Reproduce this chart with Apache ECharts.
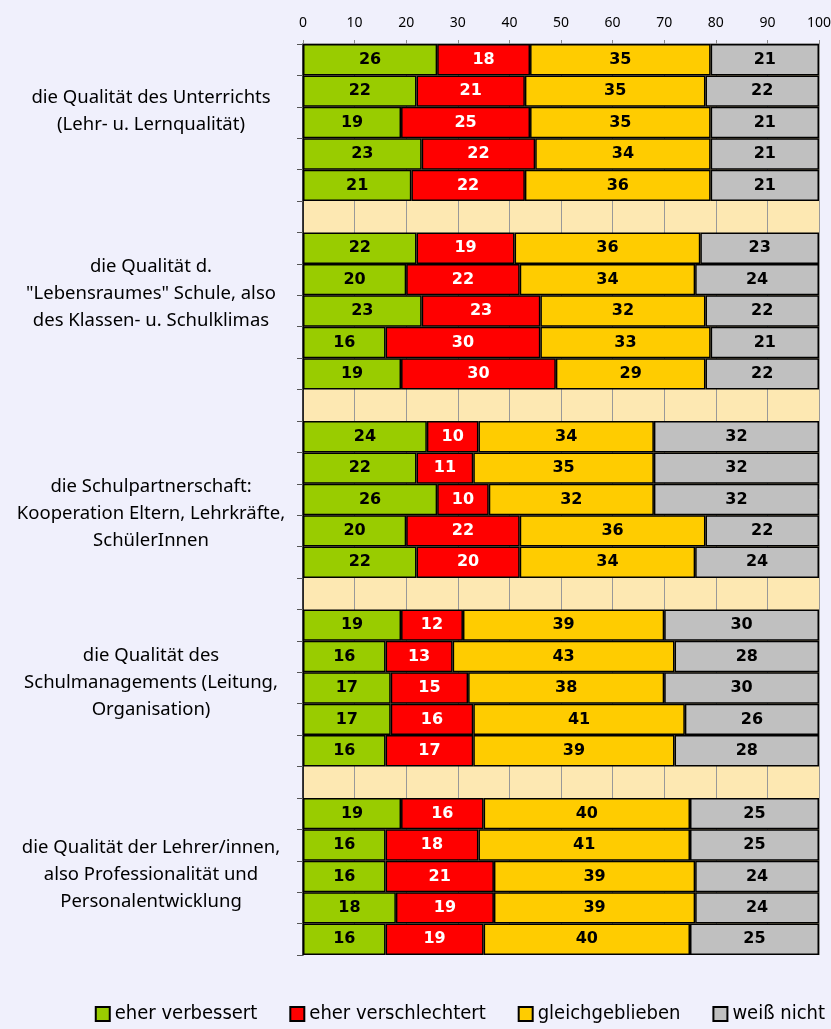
<!DOCTYPE html>
<html>
<head>
<meta charset="utf-8">
<script src="https://cdn.jsdelivr.net/npm/echarts@6/dist/echarts.min.js"></script>
<style>
  html, body { margin: 0; padding: 0; background: #f0f0fc; }
  #chart { width: 831px; height: 1029px; }
</style>
</head>
<body>
<div id="chart"></div>
<script>
// Gruppen (je 5 Balken), dazwischen Leerzeilen
var groupLabels = [
  "die Qualität des Unterrichts\n(Lehr- u. Lernqualität)",
  "die Qualität d.\n\"Lebensraumes\" Schule, also\ndes Klassen- u. Schulklimas",
  "die Schulpartnerschaft:\nKooperation Eltern, Lehrkräfte,\nSchülerInnen",
  "die Qualität des\nSchulmanagements (Leitung,\nOrganisation)",
  "die Qualität der Lehrer/innen,\nalso Professionalität und\nPersonalentwicklung"
];
var seriesNames = ["eher verbessert", "eher verschlechtert", "gleichgeblieben", "weiß nicht"];
var colors = ["#99cc00", "#ff0000", "#ffcc00", "#c0c0c0"];
var labelColors = ["#000", "#fff", "#000", "#000"];

// '-' = Leerzeile zwischen den Gruppen
var verbessert = [26, 22, 19, 23, 21, '-', 22, 20, 23, 16, 19, '-', 24, 22, 26, 20, 22, '-', 19, 16, 17, 17, 16, '-', 19, 16, 16, 18, 16];
var verschlechtert = [18, 21, 25, 22, 22, '-', 19, 22, 23, 30, 30, '-', 10, 11, 10, 22, 20, '-', 12, 13, 15, 16, 17, '-', 16, 18, 21, 19, 19];
var gleich = [35, 35, 35, 34, 36, '-', 36, 34, 32, 33, 29, '-', 34, 35, 32, 36, 34, '-', 39, 43, 38, 41, 39, '-', 40, 41, 39, 39, 40];
var weissNicht = [21, 22, 21, 21, 21, '-', 23, 24, 22, 21, 22, '-', 32, 32, 32, 22, 24, '-', 30, 28, 30, 26, 28, '-', 25, 25, 24, 24, 25];

var values = [verbessert, verschlechtert, gleich, weissNicht];
var categories = verbessert.map(function (v, i) { return "r" + i; });

var myChart = echarts.init(document.getElementById("chart"));

var series = values.map(function (data, i) {
  return {
    name: seriesNames[i],
    type: "bar",
    stack: "total",
    data: data,
    barCategoryGap: 0,
    itemStyle: { color: colors[i], borderColor: "#000", borderWidth: 1.5 },
    label: {
      show: true,
      position: "inside",
      color: labelColors[i],
      fontFamily: "DejaVu Sans",
      fontWeight: "bold",
      fontSize: 16
    },
    emphasis: { disabled: true }
  };
});

// Texte der Gruppen links
var labelY = [111, 294, 514, 683, 875];
var graphics = groupLabels.map(function (t, i) {
  return {
    type: "text",
    x: 151,
    y: labelY[i],
    style: {
      text: t,
      align: "center",
      verticalAlign: "middle",
      lineHeight: 27,
      font: "18.5px 'Noto Sans'",
      fill: "#000"
    }
  };
});

var option = {
  backgroundColor: "#f0f0fc",
  animation: false,
  grid: {
    left: 303, right: 12, top: 44, bottom: 74,
    outerBoundsMode: "none",
    containLabel: false,
    show: true, backgroundColor: "#fde8b2", borderWidth: 0
  },
  xAxis: {
    type: "value",
    position: "top",
    min: 0, max: 100, interval: 10,
    axisLine: { show: true, lineStyle: { color: "#888", width: 1.5 } },
    axisTick: { show: true, length: 4, lineStyle: { color: "#888" } },
    axisLabel: { color: "#000", fontSize: 14, margin: 14, fontFamily: "Noto Sans" },
    splitLine: { show: true, lineStyle: { color: "#999", width: 1 } }
  },
  yAxis: {
    type: "category",
    inverse: true,
    data: categories,
    axisLine: { lineStyle: { color: "#000", width: 1.5 } },
    axisTick: { show: true, length: 6, lineStyle: { color: "#555" } },
    axisLabel: { show: false }
  },
  legend: {
    bottom: 0,
    right: 1,
    itemWidth: 14,
    itemHeight: 14,
    itemGap: 32,
    icon: "rect",
    textStyle: { fontSize: 20, color: "#000", fontFamily: "'DejaVu Sans Condensed'", padding: [0, 0, 0, 0] },
    data: seriesNames
  },
  graphic: graphics,
  series: series
};

myChart.setOption(option);
</script>
</body>
</html>
